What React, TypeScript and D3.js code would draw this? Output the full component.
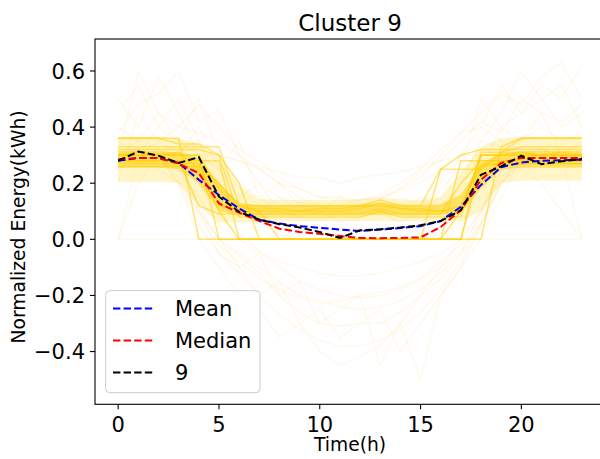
import React from "react";
import * as d3 from "d3";

const hours = [0,1,2,3,4,5,6,7,8,9,10,11,12,13,14,15,16,17,18,19,20,21,22,23];
const xTicks = [0, 5, 10, 15, 20];
const yTicks = [-0.4, -0.2, 0.0, 0.2, 0.4, 0.6];

const meanValues = [0.28,0.29,0.29,0.272,0.212,0.158,0.11,0.07,0.056,0.047,0.041,0.035,0.03,0.035,0.04,0.047,0.065,0.116,0.194,0.257,0.274,0.28,0.282,0.284];
const medianValues = [0.285,0.29,0.29,0.27,0.236,0.128,0.095,0.065,0.038,0.026,0.02,0.012,0.005,0.004,0.005,0.007,0.044,0.104,0.212,0.272,0.29,0.29,0.29,0.29];
const clusterValues = [0.28,0.313,0.298,0.272,0.293,0.152,0.098,0.07,0.054,0.042,0.026,0.005,0.032,0.036,0.042,0.05,0.065,0.104,0.23,0.26,0.298,0.268,0.278,0.286];

// envelopes of the member profiles
const innerHigh = [0.315,0.315,0.315,0.31,0.29,0.2,0.13,0.122,0.122,0.122,0.122,0.122,0.124,0.13,0.124,0.122,0.125,0.16,0.27,0.31,0.315,0.315,0.315,0.315];
const innerLow = [0.255,0.255,0.255,0.25,0.2,0.1,0.085,0.085,0.085,0.085,0.085,0.085,0.085,0.088,0.085,0.085,0.088,0.095,0.18,0.25,0.255,0.255,0.255,0.255];
const outerHigh = [0.365,0.365,0.365,0.36,0.34,0.29,0.19,0.145,0.14,0.14,0.14,0.14,0.142,0.148,0.142,0.14,0.15,0.24,0.33,0.36,0.365,0.365,0.365,0.365];
const outerLow = [0.205,0.205,0.205,0.2,0.12,0.06,0.06,0.065,0.065,0.065,0.065,0.065,0.065,0.065,0.065,0.065,0.065,0.065,0.1,0.2,0.21,0.21,0.21,0.21];

// step-shaped member profiles (drop to zero during the day)
const stepProfiles = [
  [0.36,0.36,0.36,0.36,0,0,0,0,0,0,0,0,0,0,0,0,0,0,0,0.33,0.36,0.36,0.36,0.36],
  [0.3,0.3,0.3,0.3,0.3,0,0,0,0,0,0,0,0,0,0,0,0,0,0.3,0.3,0.3,0.3,0.3,0.3],
  [0.28,0.28,0.28,0.28,0.28,0.28,0,0,0,0,0,0,0,0,0,0,0,0.28,0.28,0.28,0.28,0.28,0.28,0.28],
  [0.32,0.32,0.32,0.32,0.32,0.3,0.2,0,0,0,0,0,0,0,0,0,0.25,0.3,0.32,0.32,0.32,0.32,0.32,0.32],
  [0.26,0.26,0.26,0.26,0.26,0.2,0.12,0.1,0,0,0,0,0,0,0,0,0,0,0.26,0.27,0.27,0.27,0.27,0.27],
  [0.3,0.31,0.3,0.31,0.25,0.1,0,0,0,0,0,0,0,0,0,0,0,0.1,0.3,0.3,0.31,0.3,0.31,0.3],
];

// plateau member profiles (low but non-zero daytime use)
const plateauProfiles = [
  [0.3,0.3,0.3,0.3,0.3,0.18,0.1,0.1,0.1,0.1,0.1,0.1,0.11,0.13,0.11,0.1,0.1,0.1,0.3,0.3,0.3,0.3,0.3,0.3],
  [0.28,0.28,0.28,0.28,0.12,0.09,0.09,0.09,0.09,0.09,0.09,0.09,0.09,0.11,0.09,0.09,0.09,0.2,0.28,0.28,0.28,0.28,0.28,0.28],
  [0.33,0.33,0.33,0.33,0.33,0.33,0.12,0.12,0.12,0.12,0.12,0.12,0.12,0.14,0.12,0.12,0.25,0.25,0.25,0.31,0.33,0.33,0.33,0.33],
  [0.27,0.27,0.27,0.27,0.27,0.12,0.11,0.11,0.11,0.1,0.11,0.11,0.12,0.12,0.11,0.11,0.1,0.12,0.27,0.27,0.27,0.27,0.27,0.27],
  [0.36,0.36,0.36,0.34,0.34,0.3,0.08,0.08,0.08,0.08,0.08,0.08,0.08,0.1,0.08,0.08,0.08,0.08,0.31,0.31,0.36,0.36,0.36,0.36],
];

// faint outlying member profiles
const faintProfiles = [
  [0.45,0.55,0.4,0.5,0.35,0.2,0.12,0.1,0.15,0.1,0.12,0.1,0.12,0.1,0.15,0.12,0.2,0.3,0.4,0.55,0.45,0.5,0.4,0.45],
  [0.3,0.6,0.45,0.35,0.5,0.3,0.2,0.15,0.1,0.12,0.08,0.1,0.1,0.12,0.1,0.15,0.1,0.2,0.35,0.45,0.6,0.5,0.55,0.4],
  [0.5,0.4,0.58,0.45,0.3,0.25,0.35,0.15,0.2,0.12,0.1,0.15,0.12,0.1,0.12,0.1,0.18,0.25,0.5,0.4,0.45,0.55,0.5,0.62],
  [0.38,0.48,0.52,0.6,0.42,0.46,0.3,0.25,0.2,0.15,0.12,0.1,0.12,0.14,0.18,0.22,0.3,0.38,0.45,0.52,0.48,0.58,0.63,0.5],
  [0.4,0.35,0.45,0.4,0.48,0.4,0.32,0.28,0.22,0.18,0.15,0.14,0.14,0.15,0.18,0.24,0.28,0.35,0.42,0.38,0.5,0.45,0.42,0.48],
  [0.3,0.35,0.3,0.32,0.35,0.3,0.28,0.25,0.2,0.18,0.15,0.15,0.14,0.15,0.17,0.2,0.25,0.3,0.35,0.33,0.3,0.32,0.3,0.3],
  [0.25,0.3,0.35,0.4,0.38,0.35,0.3,0.2,0.15,0.13,0.12,0.12,0.14,0.16,0.2,0.25,0.32,0.38,0.4,0.35,0.3,0.3,0.28,0.3],
  [0.3,0.3,0.28,0.25,0.1,0,-0.05,-0.1,-0.15,-0.2,-0.22,-0.24,-0.25,-0.24,-0.22,-0.18,-0.12,-0.05,0.1,0.25,0.3,0.3,0.28,0.3],
  [0.3,0.28,0.3,0.2,0.05,-0.05,-0.12,-0.2,-0.27,-0.32,-0.36,-0.38,-0.38,-0.36,-0.32,-0.26,-0.18,-0.08,0.05,0.2,0.28,0.3,0.3,0.28],
  [0.28,0.3,0.3,0.25,0.15,0.05,0,-0.05,-0.08,-0.1,-0.12,-0.13,-0.13,-0.12,-0.1,-0.08,-0.05,0,0.1,0.22,0.28,0.3,0.3,0.3],
  [0.25,0.3,0.3,0.2,0.1,0,-0.1,-0.05,-0.2,-0.15,-0.3,-0.25,-0.2,-0.45,-0.3,-0.5,-0.2,-0.1,0.05,0.2,0.3,0.28,0.3,0.3],
  [0.3,0.3,0.25,0.2,0,-0.1,-0.2,-0.25,-0.35,-0.3,-0.4,-0.45,-0.42,-0.38,-0.3,-0.2,-0.1,0,0.1,0.25,0.3,0.3,0.3,0.3],
  [0.28,0.28,0.3,0.22,0.08,-0.02,-0.08,-0.14,-0.18,-0.21,-0.23,-0.22,-0.2,-0.19,-0.17,-0.14,-0.1,-0.04,0.06,0.2,0.27,0.28,0.3,0.29],
  [0.3,0.3,0.3,0.28,0.2,0.08,0.02,-0.04,-0.1,-0.15,-0.18,-0.2,-0.21,-0.2,-0.18,-0.14,-0.08,-0.02,0.08,0.24,0.3,0.3,0.3,0.3],
  [0.28,0.3,0.29,0.26,0.12,0,-0.06,-0.12,-0.2,-0.26,-0.3,-0.31,-0.3,-0.3,-0.26,-0.2,-0.14,-0.06,0.06,0.22,0.29,0.3,0.29,0.3],
  [0.3,0.28,0.3,0.3,0.1,-0.05,-0.1,-0.2,-0.15,-0.3,-0.25,-0.35,-0.3,-0.25,-0.4,-0.3,-0.2,-0.1,0,0.15,0.3,0.28,0.3,0.3],
  [0,0.3,0.32,0.3,0.28,0.15,0.1,0.08,0.06,0.05,0.04,0.04,0.03,0.03,0.04,0.05,0.06,0.1,0.2,0.3,0.3,0.3,0.3,0],
  [0,0,0,0,0,0,0,0,0,0,0,0,0,0,0,0,0,0,0,0,0,0,0,0],
  [0,0.2,0.3,0.28,0.3,0.25,0.1,0.08,0.1,0.08,0.07,0.09,0.1,0.1,0.09,0.1,0.12,0.18,0.3,0.3,0.25,0.2,0.1,0],
  [0.3,0.32,0.3,0.31,0.3,0.3,0.28,0.26,0.24,0.22,0.22,0.2,0.22,0.23,0.24,0.26,0.28,0.3,0.3,0.31,0.3,0.32,0.3,0.31],
  [0.2,0.45,0.35,0.3,0.4,0.25,0.15,0.2,0.1,0.08,0.1,0.06,0.08,0.1,0.06,0.1,0.15,0.3,0.25,0.4,0.35,0.45,0.3,0.35],
  [0.35,0.3,0.4,0.35,0.3,0.2,0.1,0.05,0.02,0,0,0,0,0,0,0,0.02,0.05,0.2,0.3,0.35,0.4,0.35,0.38],
];

const legendNames = ["Mean", "Median", "9"];
const legendColors = ["#0000ff", "#ff0000", "#000000"];

export default function App() {
  const W = 600, H = 459;
  const L = 95, R = 605, T = 39, B = 404.3;
  const x = d3.scaleLinear().domain([-1.15, 24.15]).range([L, R]);
  const y = d3.scaleLinear().domain([-0.588, 0.714]).range([B, T]);
  const line = d3.line<number>().x((_, i) => x(hours[i])).y((d) => y(d));
  const band = (lo: number[], hi: number[]) =>
    d3.area<number>().x((_, i) => x(hours[i])).y0((_, i) => y(lo[i])).y1((_, i) => y(hi[i]))(hours) || "";
  const font = "'DejaVu Sans', sans-serif";
  const series = [meanValues, medianValues, clusterValues];
  const dash = "7.4,3.2";

  return (
    <svg width={W} height={H} style={{ position: "absolute", left: 0, top: 0, background: "#fff" }} fontFamily={font}>
      <defs>
        <clipPath id="plot">
          <rect x={L} y={T} width={R - L} height={B - T} />
        </clipPath>
      </defs>
      <g clipPath="url(#plot)">
        {faintProfiles.map((p, i) => (
          <path key={"f" + i} d={line(p) || ""} fill="none" stroke="#ffa500" strokeOpacity={0.07} strokeWidth={1.5} />
        ))}
        <path d={band(outerLow, outerHigh)} fill="#ffd000" fillOpacity={0.22} />
        <path d={band(innerLow, innerHigh)} fill="#ffd000" fillOpacity={0.5} />
        {stepProfiles.map((p, i) => (
          <path key={"s" + i} d={line(p) || ""} fill="none" stroke="#ffd000" strokeOpacity={0.55} strokeWidth={1.5} />
        ))}
        {plateauProfiles.map((p, i) => (
          <path key={"p" + i} d={line(p) || ""} fill="none" stroke="#ffd000" strokeOpacity={0.5} strokeWidth={1.5} />
        ))}
        {series.map((s, i) => (
          <path key={"m" + i} d={line(s) || ""} fill="none" stroke={legendColors[i]} strokeWidth={2} strokeDasharray={dash} />
        ))}
      </g>
      {/* spines */}
      <rect x={L} y={T} width={R - L} height={B - T} fill="none" stroke="#000" strokeWidth={1.1} />
      {/* x ticks */}
      {xTicks.map((t) => (
        <g key={"xt" + t}>
          <line x1={x(t)} x2={x(t)} y1={B} y2={B + 5} stroke="#000" strokeWidth={1.1} />
          <text x={x(t)} y={B + 28} fontSize={21} textAnchor="middle" fill="#000">{t}</text>
        </g>
      ))}
      {yTicks.map((t) => (
        <g key={"yt" + t}>
          <line x1={L - 5} x2={L} y1={y(t)} y2={y(t)} stroke="#000" strokeWidth={1.1} />
          <text x={L - 10} y={y(t)} dy="0.36em" fontSize={21} textAnchor="end" fill="#000">
            {t.toFixed(1).replace("-", "\u2212")}
          </text>
        </g>
      ))}
      <text x={(L + R) / 2} y={31} fontSize={23} textAnchor="middle" fill="#000">Cluster 9</text>
      <text x={(L + R) / 2} y={451} fontSize={18.7} textAnchor="middle" fill="#000">Time(h)</text>
      <text transform={`translate(25,227) rotate(-90)`} fontSize={18.7} textAnchor="middle" fill="#000">
        Normalized Energy(kWh)
      </text>
      {/* legend */}
      <rect x={105.7} y={290.7} width={154.3} height={102} rx={4} fill="#fff" fillOpacity={0.8} stroke="#cccccc" strokeWidth={1} />
      {legendNames.map((n, i) => (
        <g key={"lg" + i}>
          <line x1={113} x2={155} y1={308.5 + i * 32} y2={308.5 + i * 32} stroke={legendColors[i]} strokeWidth={2} strokeDasharray={dash} />
          <text x={175} y={308.5 + i * 32} dy="0.36em" fontSize={21} fill="#000">{n}</text>
        </g>
      ))}
    </svg>
  );
}
